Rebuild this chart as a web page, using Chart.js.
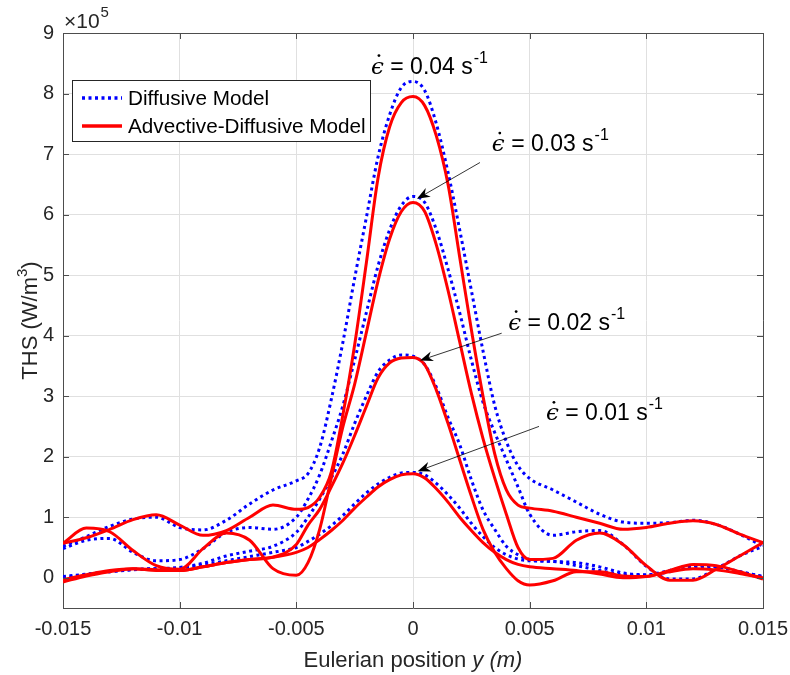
<!DOCTYPE html>
<html lang="en">
<head>
<meta charset="UTF-8">
<title>THS profiles</title>
<script src="https://cdn.jsdelivr.net/npm/chart.js"></script>
<style>
  body { margin: 0; background: #fff; }
  #ths { display: block; }
</style>
</head>
<body>
<canvas id="ths" width="790" height="675"></canvas>
<script>
// Eulerian position y (m)
const yPos = [-0.015, -0.014, -0.013, -0.012, -0.011, -0.010, -0.009, -0.008, -0.007, -0.006, -0.005,
              -0.0045, -0.004, -0.0035, -0.003, -0.0025, -0.002, -0.0015, -0.001, -0.0005, 0,
              0.0005, 0.001, 0.0015, 0.002, 0.0025, 0.003, 0.0035, 0.004, 0.0045,
              0.005, 0.006, 0.007, 0.008, 0.009, 0.010, 0.011, 0.012, 0.013, 0.014, 0.015];

// THS, in units of 1e5 W/m^3
const diff04 = [0.52, 0.68, 0.85, 0.97, 1.0, 0.83, 0.79, 0.95, 1.22, 1.45, 1.6,
                1.72, 2.15, 2.95, 3.9, 4.95, 5.95, 6.95, 7.65, 8.1, 8.2,
                8.05, 7.5, 6.7, 5.75, 4.75, 3.75, 2.85, 2.25, 1.85,
                1.64, 1.45, 1.25, 1.05, 0.92, 0.9, 0.91, 0.95, 0.88, 0.72, 0.52];
const adv04  = [0.57, 0.66, 0.8, 0.96, 1.04, 0.87, 0.7, 0.78, 1.0, 1.2, 1.13,
                1.16, 1.33, 1.75, 2.7, 3.85, 5.2, 6.6, 7.45, 7.85, 7.95,
                7.8, 7.3, 6.5, 5.3, 4.1, 3.0, 2.05, 1.45, 1.2,
                1.15, 1.1, 1.0, 0.9, 0.8, 0.83, 0.9, 0.94, 0.88, 0.72, 0.58];
const diff03 = [0.48, 0.62, 0.65, 0.42, 0.28, 0.3, 0.48, 0.75, 0.83, 0.8, 1.0,
                1.3, 1.7, 2.25, 2.85, 3.6, 4.38, 5.15, 5.75, 6.15, 6.3,
                6.2, 5.75, 5.1, 4.38, 3.6, 2.9, 2.4, 1.95, 1.5,
                1.05, 0.7, 0.76, 0.78, 0.55, 0.19, -0.02, -0.02, 0.15, 0.36, 0.52];
const adv03  = [0.57, 0.82, 0.76, 0.45, 0.2, 0.14, 0.48, 0.74, 0.62, 0.15, 0.04,
                0.25, 0.8, 1.65, 2.5, 3.2, 4.05, 4.9, 5.6, 6.05, 6.2,
                6.05, 5.5, 4.75, 3.9, 3.05, 2.3, 1.65, 1.05, 0.5,
                0.3, 0.32, 0.62, 0.74, 0.55, 0.2, -0.04, -0.04, 0.14, 0.36, 0.58];
const diff02 = [0.02, 0.06, 0.1, 0.14, 0.15, 0.17, 0.24, 0.36, 0.44, 0.52, 0.75,
                1.0, 1.3, 1.65, 2.05, 2.55, 3.0, 3.4, 3.6, 3.68, 3.66,
                3.52, 3.15, 2.65, 2.2, 1.62, 1.12, 0.8, 0.52, 0.38,
                0.3, 0.27, 0.25, 0.18, 0.08, 0.05, 0.12, 0.2, 0.18, 0.1, 0.02];
const adv02  = [-0.07, 0.03, 0.1, 0.15, 0.12, 0.12, 0.18, 0.25, 0.3, 0.34, 0.55,
                0.87, 1.13, 1.5, 1.9, 2.35, 2.83, 3.3, 3.55, 3.63, 3.64,
                3.52, 3.1, 2.55, 1.95, 1.35, 0.8, 0.42, 0.15, -0.05,
                -0.12, -0.05, 0.1, 0.1, 0.03, 0.02, 0.12, 0.22, 0.2, 0.1, -0.02];
const diff01 = [0.0, 0.05, 0.1, 0.13, 0.15, 0.16, 0.21, 0.28, 0.35, 0.42, 0.5,
                0.6, 0.72, 0.86, 1.03, 1.22, 1.4, 1.55, 1.66, 1.73, 1.74,
                1.7, 1.56, 1.37, 1.15, 0.9, 0.68, 0.5, 0.38, 0.31,
                0.28, 0.27, 0.2, 0.12, 0.05, 0.04, 0.1, 0.18, 0.18, 0.1, 0.02];
const adv01  = [-0.03, 0.05, 0.12, 0.15, 0.13, 0.12, 0.18, 0.25, 0.3, 0.34, 0.42,
                0.5, 0.63, 0.78, 0.95, 1.15, 1.33, 1.5, 1.62, 1.7, 1.72,
                1.65, 1.47, 1.25, 1.0, 0.78, 0.58, 0.42, 0.3, 0.22,
                0.18, 0.15, 0.12, 0.06, 0.0, 0.02, 0.1, 0.15, 0.13, 0.07, 0.0];

const xTicks = [-0.015, -0.01, -0.005, 0, 0.005, 0.01, 0.015];
const yTicks = [0, 1, 2, 3, 4, 5, 6, 7, 8, 9];
const legendNames = ['Diffusive Model', 'Advective-Diffusive Model'];
const rates = ['0.04', '0.03', '0.02', '0.01'];

const FONT = '"Liberation Sans", Arial, Helvetica, sans-serif';
const BLUE = '#0000ff';
const RED = '#ff0000';

function pts(vals) {
    return vals.map((v, i) => ({ x: yPos[i], y: v }));
}

function series(vals, model) {
    const diff = model === 0;
    return {
        label: legendNames[model],
        data: pts(vals),
        borderColor: diff ? BLUE : RED,
        borderWidth: 3,
        borderDash: diff ? [3, 3.5] : [],
        pointRadius: 0,
        cubicInterpolationMode: 'monotone',
        order: diff ? 1 : 0
    };
}

// text labels, placed in data units: [x, y of text start], [arrow tail], [arrow head]
const notes = [
    { rate: rates[0], at: [-0.0018, 8.33], arrow: null },
    { rate: rates[1], at: [0.00338, 7.05], arrow: [[0.00287, 6.86], [0.00017, 6.26]] },
    { rate: rates[2], at: [0.00408, 4.1], arrow: [[0.0038, 4.04], [0.0003, 3.59]] },
    { rate: rates[3], at: [0.0057, 2.6], arrow: [[0.0054, 2.5], [0.0002, 1.76]] }
];

function arrow(ctx, x1, y1, x2, y2) {
    const a = Math.atan2(y2 - y1, x2 - x1);
    ctx.strokeStyle = '#000';
    ctx.lineWidth = 0.8;
    ctx.beginPath();
    ctx.moveTo(x1, y1);
    ctx.lineTo(x2 - 8 * Math.cos(a), y2 - 8 * Math.sin(a));
    ctx.stroke();
    ctx.save();
    ctx.translate(x2, y2);
    ctx.rotate(a);
    ctx.fillStyle = '#000';
    ctx.beginPath();
    ctx.moveTo(0, 0);
    ctx.lineTo(-13, -5);
    ctx.lineTo(-9, 0);
    ctx.lineTo(-13, 5);
    ctx.closePath();
    ctx.fill();
    ctx.restore();
}

function rateText(ctx, x, y, rate) {
    ctx.textAlign = 'left';
    ctx.textBaseline = 'alphabetic';
    ctx.fillStyle = '#000';
    ctx.font = 'italic 23px "DejaVu Serif", serif';
    ctx.fillText('\u03f5', x, y);
    const ew = ctx.measureText('\u03f5').width;
    ctx.beginPath();
    ctx.arc(x + ew / 2 + 1.5, y - 18, 1.4, 0, 2 * Math.PI);
    ctx.fill();
    ctx.font = '23px ' + FONT;
    const s = ' = ' + rate + ' s';
    ctx.fillText(s, x + ew, y);
    const w = ctx.measureText(s).width;
    ctx.font = '16px ' + FONT;
    ctx.fillText('-1', x + ew + w + 1, y - 11);
}

const decor = {
    id: 'decor',
    afterDatasetsDraw(chart) {
        const ctx = chart.ctx;
        const a = chart.chartArea;
        const sx = chart.scales.x, sy = chart.scales.y;
        ctx.save();

        // box top / right + inward ticks
        ctx.strokeStyle = '#4d4d4d';
        ctx.lineWidth = 1;
        ctx.beginPath();
        ctx.moveTo(a.left, a.top + 0.5);
        ctx.lineTo(a.right + 0.5, a.top + 0.5);
        ctx.lineTo(a.right + 0.5, a.bottom);
        xTicks.forEach(v => {
            const p = Math.round(sx.getPixelForValue(v)) + 0.5;
            ctx.moveTo(p, a.bottom); ctx.lineTo(p, a.bottom - 6);
            ctx.moveTo(p, a.top); ctx.lineTo(p, a.top + 6);
        });
        yTicks.forEach(v => {
            const p = Math.round(sy.getPixelForValue(v)) + 0.5;
            ctx.moveTo(a.left, p); ctx.lineTo(a.left + 6, p);
            ctx.moveTo(a.right, p); ctx.lineTo(a.right - 6, p);
        });
        ctx.stroke();

        // legend
        const lx = a.left + 9, ly = a.top + 47, lw = 298, lh = 61;
        ctx.fillStyle = '#fff';
        ctx.fillRect(lx, ly, lw, lh);
        ctx.strokeStyle = '#262626';
        ctx.strokeRect(lx + 0.5, ly + 0.5, lw, lh);
        chart.data.datasets.slice(0, 2).forEach((ds, i) => {
            const yy = ly + 18 + i * 28;
            ctx.strokeStyle = ds.borderColor;
            ctx.lineWidth = 3.5;
            ctx.setLineDash(ds.borderDash);
            ctx.beginPath();
            ctx.moveTo(lx + 10, yy);
            ctx.lineTo(lx + 50, yy);
            ctx.stroke();
            ctx.setLineDash([]);
            ctx.fillStyle = '#000';
            ctx.font = '20.7px ' + FONT;
            ctx.textAlign = 'left';
            ctx.textBaseline = 'middle';
            ctx.fillText(ds.label, lx + 56, yy + 1);
        });

        // strain-rate labels and arrows
        notes.forEach(n => {
            rateText(ctx, sx.getPixelForValue(n.at[0]), sy.getPixelForValue(n.at[1]), n.rate);
            if (n.arrow) {
                arrow(ctx,
                    sx.getPixelForValue(n.arrow[0][0]), sy.getPixelForValue(n.arrow[0][1]),
                    sx.getPixelForValue(n.arrow[1][0]), sy.getPixelForValue(n.arrow[1][1]));
            }
        });
        ctx.restore();
    },
    afterDraw(chart) {
        const ctx = chart.ctx;
        const a = chart.chartArea;
        ctx.save();
        ctx.fillStyle = '#262626';
        ctx.textBaseline = 'alphabetic';

        // x10^5 exponent
        ctx.textAlign = 'left';
        ctx.font = '21px ' + FONT;
        ctx.fillText('\u00d710', a.left + 1, a.top - 5);
        const ew = ctx.measureText('\u00d710').width;
        ctx.font = '15px ' + FONT;
        ctx.fillText('5', a.left + 2 + ew, a.top - 16);

        // x title
        ctx.font = '22px ' + FONT;
        const t1 = 'Eulerian position ';
        const w1 = ctx.measureText(t1).width;
        ctx.font = 'italic 22px ' + FONT;
        const t2 = 'y (m)';
        const w2 = ctx.measureText(t2).width;
        const x0 = (a.left + a.right) / 2 - (w1 + w2) / 2;
        ctx.font = '22px ' + FONT;
        ctx.fillText(t1, x0, 667);
        ctx.font = 'italic 22px ' + FONT;
        ctx.fillText(t2, x0 + w1, 667);

        // y title
        ctx.translate(37, (a.top + a.bottom) / 2);
        ctx.rotate(-Math.PI / 2);
        ctx.font = '22px ' + FONT;
        const s1 = 'THS (W/m', s3 = ')';
        const ws1 = ctx.measureText(s1).width;
        const ws3 = ctx.measureText(s3).width;
        ctx.font = '15px ' + FONT;
        const ws2 = ctx.measureText('3').width;
        const y0 = -(ws1 + ws2 + ws3) / 2;
        ctx.font = '22px ' + FONT;
        ctx.fillText(s1, y0, 0);
        ctx.fillText(s3, y0 + ws1 + ws2, 0);
        ctx.font = '15px ' + FONT;
        ctx.fillText('3', y0 + ws1, -10);
        ctx.restore();
    }
};

const gridCol = '#e0e0e0';
const axisCol = '#4d4d4d';

new Chart(document.getElementById('ths'), {
    type: 'line',
    data: {
        datasets: [
            series(diff04, 0), series(adv04, 1),
            series(diff03, 0), series(adv03, 1),
            series(diff02, 0), series(adv02, 1),
            series(diff01, 0), series(adv01, 1)
        ]
    },
    options: {
        responsive: false,
        animation: false,
        devicePixelRatio: 1,
        layout: { padding: { top: 33, right: 27, left: 0, bottom: 0 } },
        plugins: { legend: { display: false }, tooltip: { enabled: false } },
        scales: {
            x: {
                type: 'linear',
                min: -0.015,
                max: 0.015,
                afterBuildTicks: s => { s.ticks = xTicks.map(v => ({ value: v })); },
                afterFit: s => { s.height = 67; s.paddingLeft = 0; s.paddingRight = 0; },
                ticks: {
                    callback: v => String(v),
                    font: { size: 20, family: FONT },
                    color: '#262626',
                    padding: 9,
                    maxRotation: 0,
                    autoSkip: false
                },
                grid: { color: gridCol, drawTicks: false },
                border: { color: axisCol }
            },
            y: {
                type: 'linear',
                min: -0.5,
                max: 9,
                afterBuildTicks: s => { s.ticks = yTicks.map(v => ({ value: v })); },
                afterFit: s => { s.width = 63; s.paddingTop = 0; s.paddingBottom = 0; },
                ticks: {
                    callback: v => String(v),
                    font: { size: 20, family: FONT },
                    color: '#262626',
                    padding: 9
                },
                grid: { color: gridCol, drawTicks: false },
                border: { color: axisCol }
            }
        }
    },
    plugins: [decor]
});
</script>
</body>
</html>
